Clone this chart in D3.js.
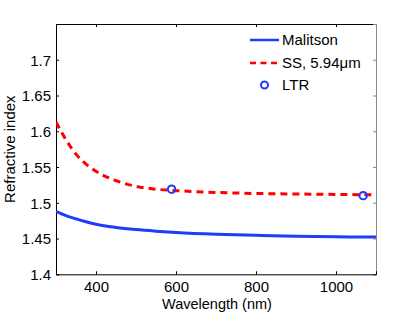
<!DOCTYPE html>
<html><head><meta charset="utf-8">
<script src="https://cdn.jsdelivr.net/npm/d3@7"></script>
<style>body{margin:0;background:#fff}svg{display:block}text{font-family:"Liberation Sans",Arial,Helvetica,sans-serif}</style>
</head><body>
<script>
const malitsonWl = [300,325,350,375,400,450,500,550,600,700,800,900,1000,1100];
const malitsonN  = [1.488,1.482,1.4775,1.4735,1.470,1.4655,1.4625,1.4603,1.4585,1.456,1.4545,1.4533,1.4525,1.452];
const ssWl = [300,325,350,375,400,450,500,550,600,700,800,900,1000,1100];
const ssN  = [1.613,1.588,1.568,1.554,1.544,1.531,1.523,1.519,1.517,1.5145,1.513,1.5123,1.5117,1.511];
const ltrWl = [589,1068];
const ltrN  = [1.519,1.510];
const xTicks = [400,600,800,1000];
const yTicks = [1.4,1.45,1.5,1.55,1.6,1.65,1.7];
const legendLabels = ["Malitson","SS, 5.94\u03bcm","LTR"];

const W=415,H=313;
const L=56,R=376,T=24,B=274.3;
const svg=d3.select("body").append("svg").attr("width",W).attr("height",H);
const x=d3.scaleLinear().domain([300,1100]).range([L,R]);
const y=d3.scaleLinear().domain([1.4,1.75]).range([B,T]);
const fs=15, tl=3;

// top & right axes (mirrors)
const gTop=svg.append("g").attr("transform",`translate(0,${T})`).call(d3.axisTop(x).tickValues(xTicks).tickSize(-tl).tickFormat(""));
const gRight=svg.append("g").attr("transform",`translate(${R},0)`).call(d3.axisRight(y).tickValues(yTicks).tickSize(-tl).tickFormat(""));
gTop.select(".domain").attr("stroke","#000");
gTop.selectAll(".tick line").attr("stroke","#000");
gRight.select(".domain").attr("stroke","#888");
gRight.selectAll(".tick line").attr("stroke","#888");

const gx=svg.append("g").attr("transform",`translate(0,${B})`).call(d3.axisBottom(x).tickValues(xTicks).tickSize(-tl).tickFormat(d3.format("d")));
gx.selectAll(".tick text").attr("dy",null).attr("y",18).attr("font-size",fs).attr("fill","#000");
const gy=svg.append("g").attr("transform",`translate(${L},0)`).call(d3.axisLeft(y).tickValues(yTicks).tickSize(-tl).tickFormat(d=>d3.format("")(+d.toFixed(2))));
gy.selectAll(".tick text").attr("font-size",fs).attr("fill","#000").attr("dy","0.35em").attr("x",-5);
[gx,gy].forEach(g=>{g.attr("font-family",null);g.select(".domain").attr("stroke","#000");g.selectAll(".tick line").attr("stroke","#000");});

const blue="rgb(30,60,250)", red="#ff0000";
svg.append("clipPath").attr("id","c").append("rect").attr("x",L).attr("y",T).attr("width",R-L).attr("height",B-T);
const line=d3.line().curve(d3.curveMonotoneX);
svg.append("path").attr("clip-path","url(#c)").attr("d",line(malitsonWl.map((w,i)=>[x(w),y(malitsonN[i])])))
  .attr("fill","none").attr("stroke",blue).attr("stroke-width",3);
svg.append("path").attr("clip-path","url(#c)").attr("d",line(ssWl.map((w,i)=>[x(w),y(ssN[i])])))
  .attr("fill","none").attr("stroke",red).attr("stroke-width",3).attr("stroke-dasharray","7,5");
svg.selectAll("circle.ltr").data(ltrWl).enter().append("circle").attr("class","ltr")
  .attr("cx",d=>x(d)).attr("cy",(d,i)=>y(ltrN[i])).attr("r",3.7)
  .attr("fill","none").attr("stroke",blue).attr("stroke-width",2);

// axis labels
svg.append("text").attr("x",(L+R)/2+1).attr("y",309).attr("text-anchor","middle").attr("font-size",14.5).text("Wavelength (nm)");
svg.append("text").attr("transform",`translate(15,${(T+B)/2}) rotate(-90)`).attr("text-anchor","middle").attr("font-size",fs).text("Refractive index");

// legend
const lg=svg.append("g");
const ly=[40,63,85];
lg.append("line").attr("x1",250).attr("x2",279).attr("y1",ly[0]).attr("y2",ly[0]).attr("stroke",blue).attr("stroke-width",2.5);
lg.append("line").attr("x1",250).attr("x2",279).attr("y1",ly[1]).attr("y2",ly[1]).attr("stroke",red).attr("stroke-width",2.5).attr("stroke-dasharray","6,4.5");
lg.append("circle").attr("cx",264.5).attr("cy",ly[2]).attr("r",3.5).attr("fill","none").attr("stroke",blue).attr("stroke-width",2);
legendLabels.forEach((t,i)=>{
  lg.append("text").attr("x",282).attr("y",ly[i]).attr("dy","0.36em").attr("font-size",fs).text(t);
});
</script>
</body></html>
